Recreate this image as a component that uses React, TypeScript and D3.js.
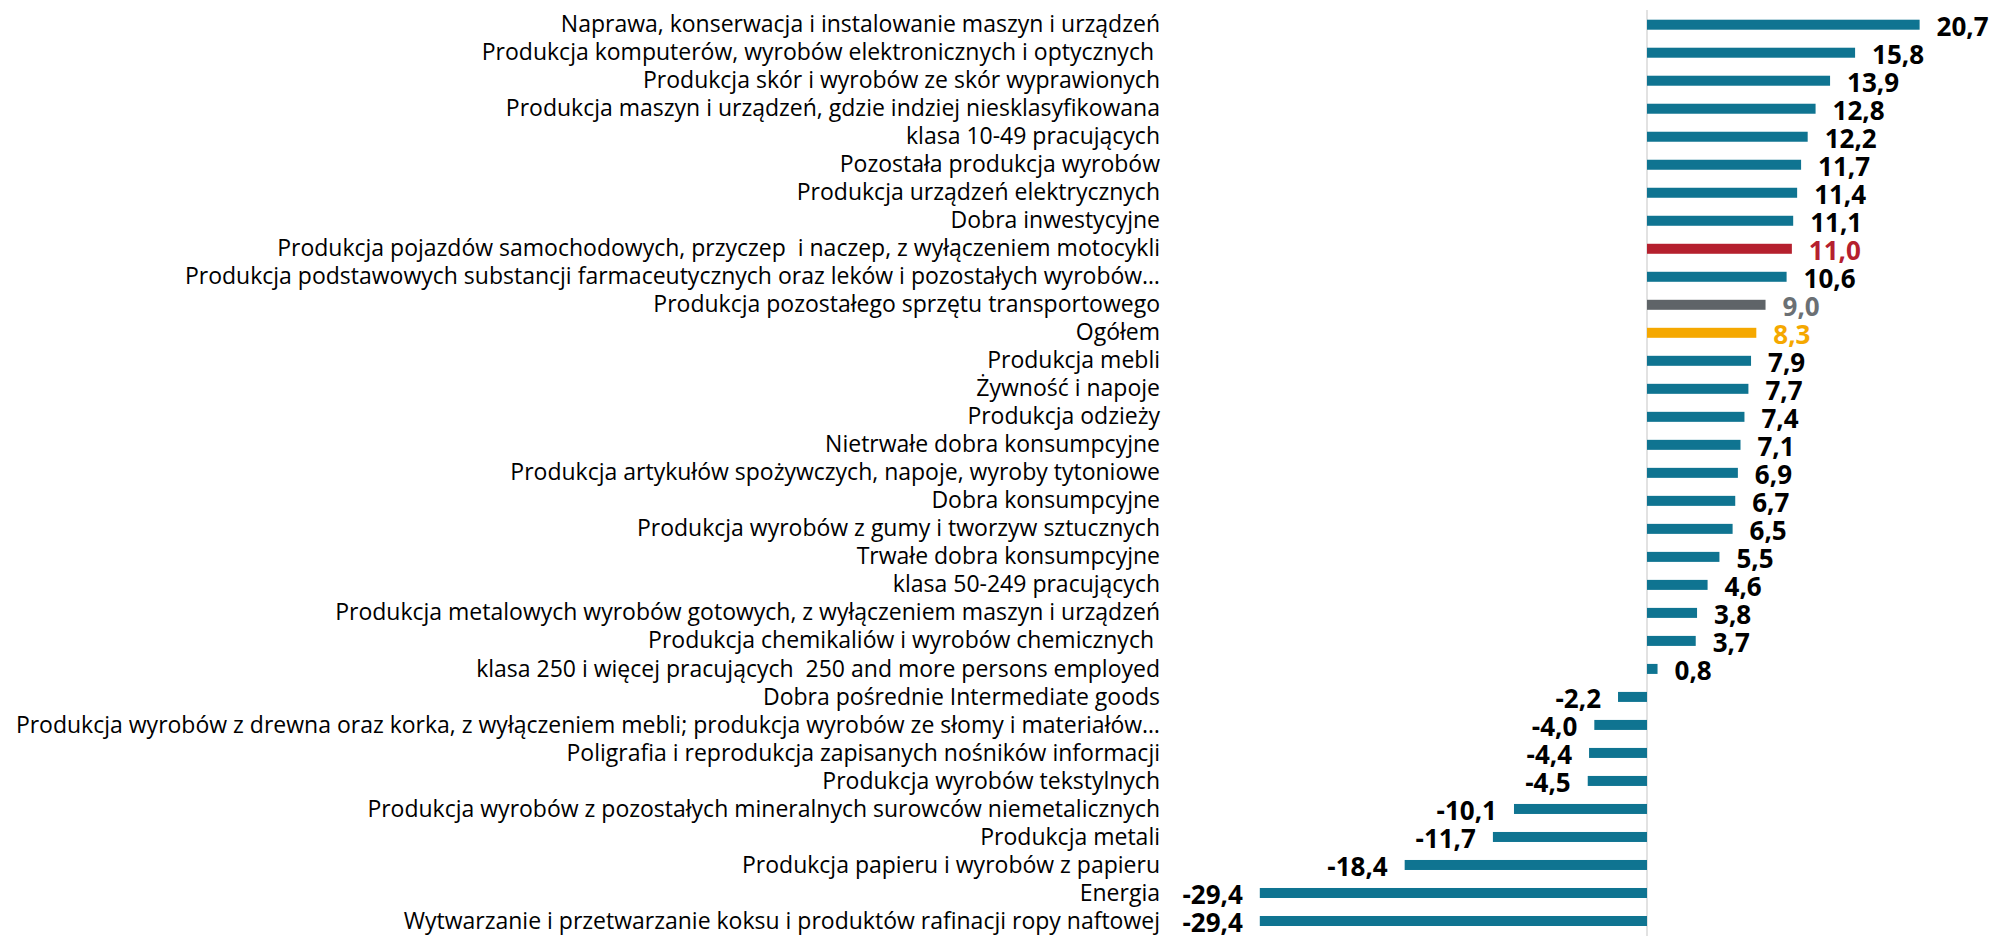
import React, { useEffect, useRef } from "react";
import * as d3 from "d3";

const categories: string[] = [
  "Naprawa, konserwacja i instalowanie maszyn i urządzeń",
  "Produkcja komputerów, wyrobów elektronicznych i optycznych ",
  "Produkcja skór i wyrobów ze skór wyprawionych",
  "Produkcja maszyn i urządzeń, gdzie indziej niesklasyfikowana",
  "klasa 10-49 pracujących",
  "Pozostała produkcja wyrobów",
  "Produkcja urządzeń elektrycznych",
  "Dobra inwestycyjne",
  "Produkcja pojazdów samochodowych, przyczep  i naczep, z wyłączeniem motocykli",
  "Produkcja podstawowych substancji farmaceutycznych oraz leków i pozostałych wyrobów…",
  "Produkcja pozostałego sprzętu transportowego",
  "Ogółem",
  "Produkcja mebli",
  "Żywność i napoje",
  "Produkcja odzieży",
  "Nietrwałe dobra konsumpcyjne",
  "Produkcja artykułów spożywczych, napoje, wyroby tytoniowe",
  "Dobra konsumpcyjne",
  "Produkcja wyrobów z gumy i tworzyw sztucznych",
  "Trwałe dobra konsumpcyjne",
  "klasa 50-249 pracujących",
  "Produkcja metalowych wyrobów gotowych, z wyłączeniem maszyn i urządzeń",
  "Produkcja chemikaliów i wyrobów chemicznych ",
  "klasa 250 i więcej pracujących  250 and more persons employed",
  "Dobra pośrednie Intermediate goods",
  "Produkcja wyrobów z drewna oraz korka, z wyłączeniem mebli; produkcja wyrobów ze słomy i materiałów…",
  "Poligrafia i reprodukcja zapisanych nośników informacji",
  "Produkcja wyrobów tekstylnych",
  "Produkcja wyrobów z pozostałych mineralnych surowców niemetalicznych",
  "Produkcja metali",
  "Produkcja papieru i wyrobów z papieru",
  "Energia",
  "Wytwarzanie i przetwarzanie koksu i produktów rafinacji ropy naftowej",
];

const values: number[] = [
  20.7, 15.8, 13.9, 12.8, 12.2, 11.7, 11.4, 11.1, 11.0, 10.6, 9.0, 8.3, 7.9,
  7.7, 7.4, 7.1, 6.9, 6.7, 6.5, 5.5, 4.6, 3.8, 3.7, 0.8, -2.2, -4.0, -4.4,
  -4.5, -10.1, -11.7, -18.4, -29.4, -29.4,
];

// highlighted rows
const highlights: Record<string, { bar: string; label: string }> = {
  "Produkcja pojazdów samochodowych, przyczep  i naczep, z wyłączeniem motocykli":
    { bar: "#b5202e", label: "#b5202e" },
  "Produkcja pozostałego sprzętu transportowego": {
    bar: "#5f6468",
    label: "#6b7074",
  },
  "Ogółem": { bar: "#f5a800", label: "#f5a800" },
};

const BAR_COLOR = "#0f7491";

const App: React.FC = () => {
  const svgRef = useRef<SVGSVGElement>(null);

  useEffect(() => {
    if (!svgRef.current) return;
    document.body.style.margin = "0";

    const svg = d3.select(svgRef.current);
    svg.selectAll("*").remove();

    const width = 1995;
    const height = 936;
    svg.attr("width", width).attr("height", height);

    const zeroX = 1647;
    const k = 13.17;
    const x = d3
      .scaleLinear()
      .domain([-30, 25])
      .range([zeroX - 30 * k, zeroX + 25 * k]);

    const y = d3
      .scalePoint<string>()
      .domain(categories)
      .range([10.7, 935])
      .padding(0.5);

    const barH = 10;
    const font = "'Open Sans', sans-serif";

    // zero line
    svg
      .append("line")
      .attr("x1", x(0))
      .attr("x2", x(0))
      .attr("y1", 10)
      .attr("y2", height)
      .attr("stroke", "#d9d9d9")
      .attr("stroke-width", 1.5);

    categories.forEach((cat, i) => {
      const v = values[i];
      const cy = y(cat) as number;
      const hl = highlights[cat];

      svg
        .append("rect")
        .attr("x", Math.min(x(0), x(v)))
        .attr("y", cy - barH / 2)
        .attr("width", Math.abs(x(v) - x(0)))
        .attr("height", barH)
        .attr("fill", hl ? hl.bar : BAR_COLOR);

      // category label
      svg
        .append("text")
        .attr("x", 1160)
        .attr("y", cy)
        .attr("dy", "0.33em")
        .attr("text-anchor", "end")
        .style("font-family", font)
        .style("font-size", "23px")
        .style("fill", "#000")
        .style("white-space", "pre")
        .text(cat);

      // value label
      const lx = v >= 0 ? x(v) + 17 : x(v) - 17;
      svg
        .append("text")
        .attr("x", lx)
        .attr("y", cy + 1.5)
        .attr("dy", "0.36em")
        .attr("text-anchor", v >= 0 ? "start" : "end")
        .style("font-family", font)
        .style("font-size", "26px")
        .style("font-weight", "bold")
        .style("fill", hl ? hl.label : "#000")
        .text(d3.format(".1f")(v).replace(".", ",").replace("−", "-"));
    });
  }, []);

  return (
    <div style={{ position: "absolute", left: 0, top: 0 }}>
      <svg ref={svgRef} style={{ display: "block", background: "#fff" }}></svg>
    </div>
  );
};

export default App;
